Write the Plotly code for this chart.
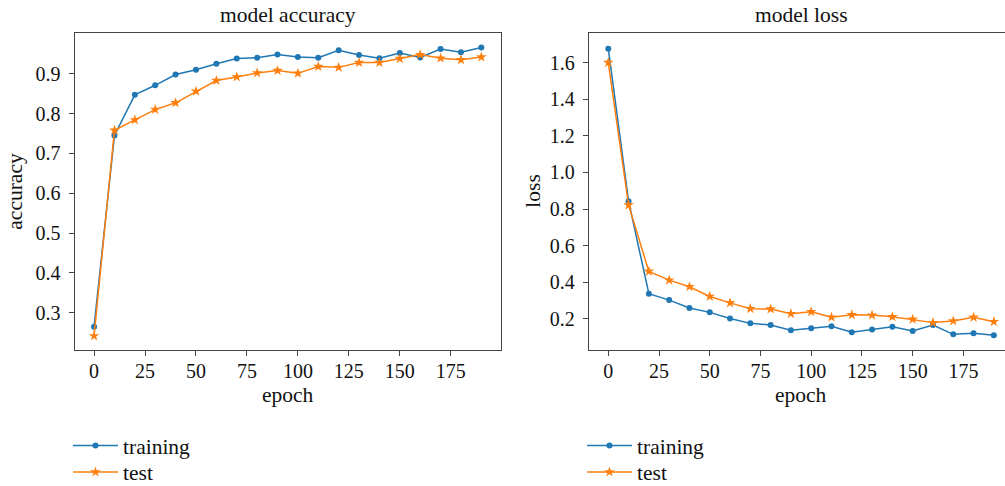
import plotly.graph_objects as go

epochs = list(range(0, 200, 10))

acc_train = [0.265, 0.745, 0.847, 0.871, 0.898, 0.910, 0.925, 0.938, 0.940, 0.948,
             0.942, 0.940, 0.959, 0.947, 0.939, 0.952, 0.941, 0.962, 0.954, 0.966]
acc_test = [0.242, 0.758, 0.784, 0.810, 0.827, 0.856, 0.883, 0.892, 0.902, 0.908,
            0.901, 0.918, 0.916, 0.928, 0.928, 0.938, 0.948, 0.939, 0.935, 0.942]

loss_train = [1.676, 0.843, 0.338, 0.303, 0.260, 0.236, 0.203, 0.176, 0.167, 0.138,
              0.149, 0.160, 0.127, 0.143, 0.158, 0.134, 0.167, 0.116, 0.122, 0.111]
loss_test = [1.600, 0.822, 0.460, 0.412, 0.376, 0.323, 0.288, 0.256, 0.254, 0.229,
             0.239, 0.210, 0.223, 0.221, 0.212, 0.198, 0.180, 0.189, 0.209, 0.185]

x_ticks = [0, 25, 50, 75, 100, 125, 150, 175]
acc_ticks = [0.3, 0.4, 0.5, 0.6, 0.7, 0.8, 0.9]
loss_ticks = [0.2, 0.4, 0.6, 0.8, 1.0, 1.2, 1.4, 1.6]

BLUE = "#1f77b4"
ORANGE = "#ff7f0e"
FONT = "Liberation Serif"
TXT = 21.5
W, H = 1005, 486

fig = go.Figure()


def add(x, y, name, color, symbol, size, xa, ya, leg):
    fig.add_trace(go.Scatter(
        x=x, y=y, name=name, mode="lines+markers",
        line=dict(color=color, width=1.5),
        marker=dict(color=color, symbol=symbol, size=size, line=dict(width=0)),
        xaxis=xa, yaxis=ya, legend=leg))


add(epochs, acc_train, "training", BLUE, "circle", 6, "x", "y", "legend")
add(epochs, acc_test, "test", ORANGE, "star", 8, "x", "y", "legend2")
add(epochs, loss_train, "training", BLUE, "circle", 6, "x2", "y2", "legend3")
add(epochs, loss_test, "test", ORANGE, "star", 8, "x2", "y2", "legend4")

AX = dict(showline=True, linecolor="#444", linewidth=1.3, ticks="outside",
          ticklen=5, tickwidth=1.3, tickcolor="#444", showgrid=False,
          zeroline=False, tickfont=dict(family=FONT, size=20, color="#111"))

y_bot = 1 - 350 / H
y_top = 1 - 33.3 / H


def leg(xpx, ypx):
    return dict(x=xpx / W, y=1 - ypx / H, xanchor="left", yanchor="middle",
                bgcolor="rgba(0,0,0,0)", font=dict(family=FONT, size=TXT, color="#111"),
                itemwidth=45)


fig.update_layout(
    width=W, height=H, margin=dict(l=0, r=0, t=0, b=0, autoexpand=False),
    paper_bgcolor="white", plot_bgcolor="white",
    font=dict(family=FONT, size=20, color="#111"),
    xaxis=dict(AX, domain=[74.7 / W, 500.7 / W], range=[-9.5, 199.5],
               tickvals=x_ticks, mirror=True, anchor="y", ticklabelstandoff=-2),
    yaxis=dict(AX, domain=[y_bot, y_top], range=[0.2065, 1.0015],
               tickvals=acc_ticks, tickformat=".1f", mirror=True,
               anchor="x", ticklabelstandoff=4),
    xaxis2=dict(AX, domain=[589 / W, 1.0], range=[-9.5, 195.5],
                tickvals=x_ticks, mirror=True, anchor="y2", ticklabelstandoff=-2),
    yaxis2=dict(AX, domain=[y_bot, y_top], range=[0.0305, 1.760],
                tickvals=loss_ticks, tickformat=".1f", anchor="x2",
                ticklabelstandoff=4),
    legend=leg(68, 445.5),
    legend2=leg(68, 472),
    legend3=leg(582, 445.5),
    legend4=leg(582, 472),
    showlegend=True,
)

annotations = [
    dict(text="model accuracy", x=287.7 / W, y=1 - 15 / H),
    dict(text="model loss", x=801 / W, y=1 - 15 / H),
    dict(text="epoch", x=287.7 / W, y=1 - 395 / H),
    dict(text="epoch", x=801 / W, y=1 - 395 / H),
    dict(text="accuracy", x=15 / W, y=1 - 191.7 / H, textangle=-90),
    dict(text="loss", x=533 / W, y=1 - 191.7 / H, textangle=-90),
]
for a in annotations:
    fig.add_annotation(xref="paper", yref="paper", showarrow=False,
                       xanchor="center", yanchor="middle",
                       font=dict(family=FONT, size=TXT, color="#111"), **a)

fig.write_html("out.html")
